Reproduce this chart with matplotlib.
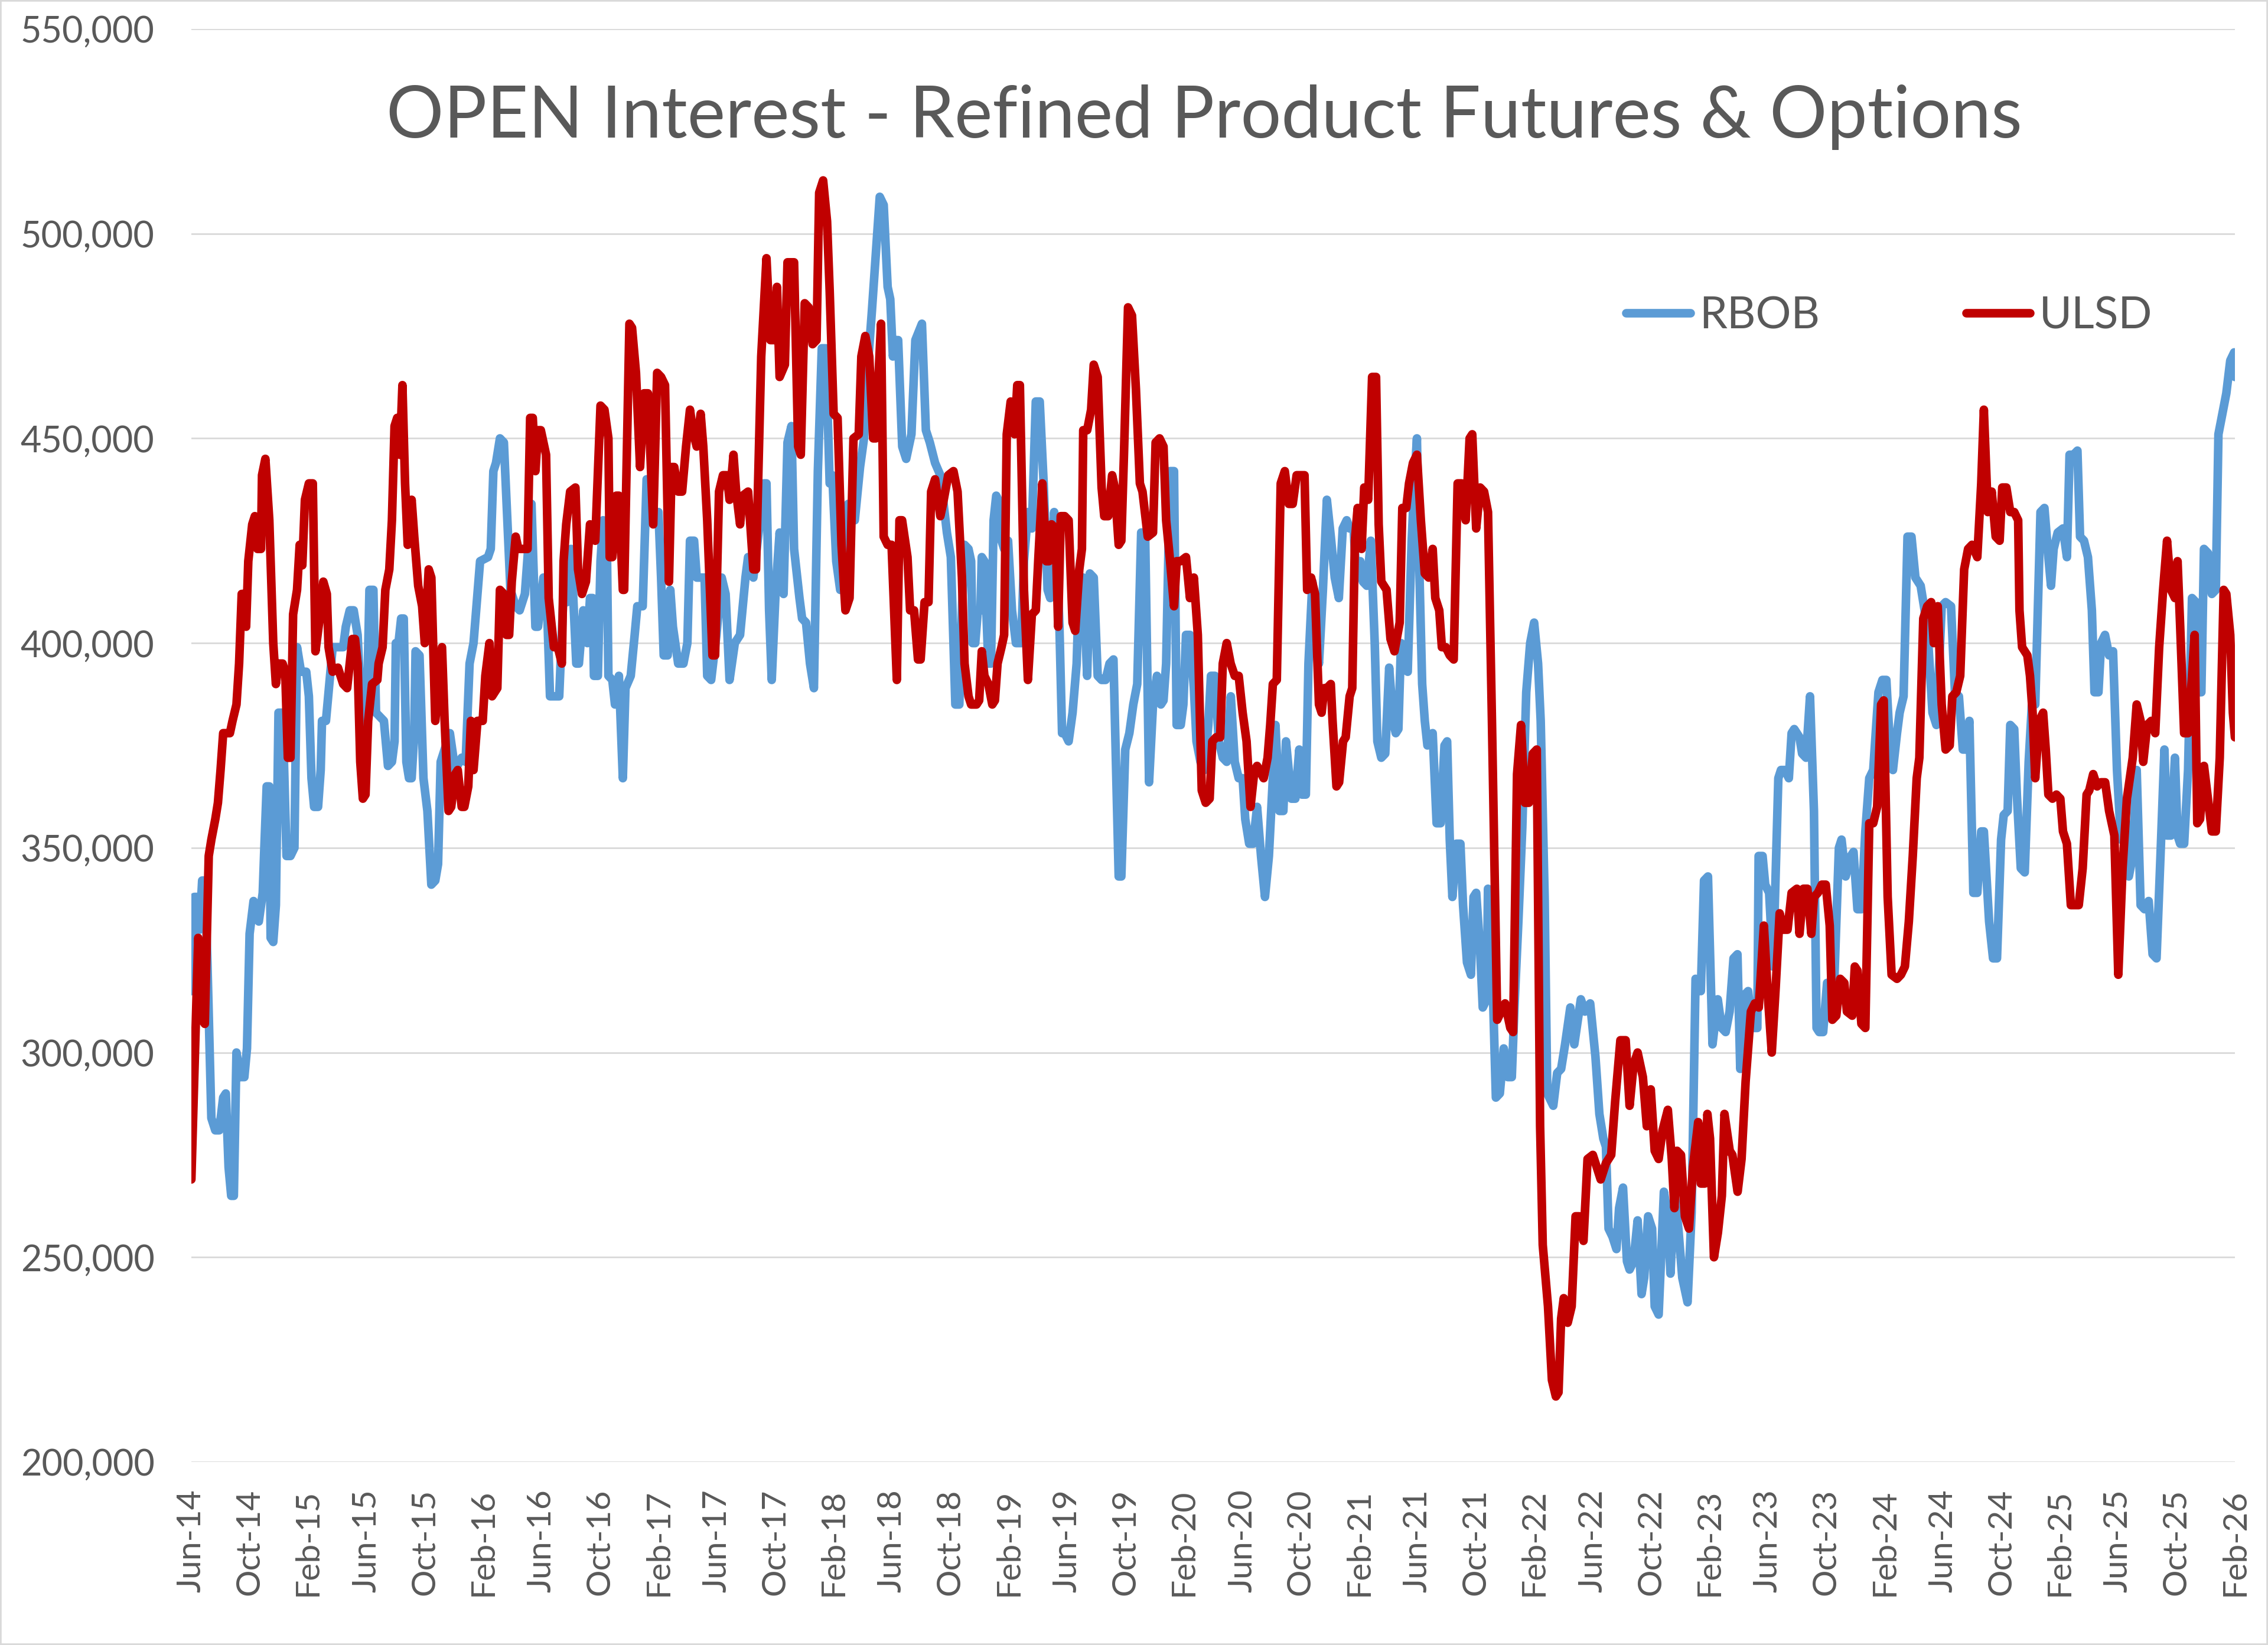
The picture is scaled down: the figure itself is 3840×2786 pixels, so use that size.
import matplotlib
matplotlib.use("Agg")
import matplotlib.pyplot as plt
from matplotlib.patches import Rectangle
import numpy as np

# open interest in thousands of contracts, x = months after Jun-14 (weekly data)
ulsd_points = [
    (0.00, 269), (0.47, 328), (0.74, 308), (0.92, 307), (1.19, 348), (1.37, 352), (1.64, 357), (1.82, 361),
    (2.00, 369), (2.18, 378), (2.64, 378), (2.82, 381), (3.09, 385), (3.27, 395), (3.45, 412), (3.63, 412),
    (3.75, 404), (3.90, 420), (4.17, 429), (4.35, 431), (4.53, 423), (4.77, 423), (4.84, 441), (5.07, 445),
    (5.34, 430), (5.61, 400), (5.79, 390), (5.97, 395), (6.25, 395), (6.43, 393), (6.61, 372), (6.79, 372),
    (6.97, 407), (7.24, 413), (7.42, 424), (7.60, 419), (7.78, 435), (8.05, 439), (8.32, 439), (8.50, 398),
    (8.86, 408), (9.04, 415), (9.28, 412), (9.40, 399), (9.68, 393), (10.04, 394), (10.40, 390), (10.67, 389),
    (11.03, 401), (11.21, 401), (11.39, 395), (11.57, 371), (11.75, 362), (11.93, 363), (12.11, 381), (12.38, 390),
    (12.74, 391), (12.83, 395), (13.10, 399), (13.29, 413), (13.56, 418), (13.74, 430), (13.92, 453), (14.10, 455),
    (14.28, 446), (14.46, 463), (14.64, 439), (14.82, 424), (15.09, 435), (15.27, 426), (15.54, 414), (15.81, 409),
    (15.99, 400), (16.26, 418), (16.44, 416), (16.71, 381), (17.17, 399), (17.35, 381), (17.62, 359), (17.80, 360),
    (18.07, 368), (18.25, 369), (18.52, 360), (18.70, 360), (18.97, 365), (19.15, 381), (19.33, 369), (19.60, 381),
    (19.96, 381), (20.14, 392), (20.42, 400), (20.60, 387), (20.96, 389), (21.14, 413), (21.41, 412), (21.59, 402),
    (21.77, 402), (21.95, 415), (22.22, 426), (22.40, 423), (23.03, 423), (23.21, 455), (23.39, 455), (23.57, 442),
    (23.75, 452), (23.94, 452), (24.30, 446), (24.48, 411), (24.84, 399), (25.11, 399), (25.38, 395), (25.50, 420),
    (25.68, 429), (25.95, 437), (26.31, 438), (26.49, 418), (26.76, 412), (27.03, 415), (27.31, 429), (27.67, 425),
    (28.03, 458), (28.30, 457), (28.57, 450), (28.66, 421), (28.84, 421), (29.11, 436), (29.29, 436), (29.56, 413),
    (29.65, 413), (30.01, 478), (30.19, 477), (30.46, 466), (30.74, 443), (31.01, 461), (31.28, 461), (31.64, 429),
    (31.91, 466), (32.18, 465), (32.45, 463), (32.72, 415), (32.90, 443), (33.08, 443), (33.35, 437), (33.62, 437),
    (33.89, 448), (34.16, 457), (34.35, 452), (34.62, 448), (34.89, 456), (35.07, 448), (35.34, 430), (35.70, 397),
    (35.88, 397), (36.15, 437), (36.42, 441), (36.69, 441), (36.87, 435), (37.14, 446), (37.32, 437), (37.59, 429),
    (37.77, 436), (38.14, 437), (38.50, 418), (38.68, 418), (39.04, 470), (39.40, 494), (39.67, 474), (39.94, 474),
    (40.12, 487), (40.30, 465), (40.66, 468), (40.84, 493), (41.29, 493), (41.57, 448), (41.75, 446), (42.02, 483),
    (42.29, 482), (42.56, 473), (42.83, 474), (43.01, 510), (43.28, 513), (43.55, 503), (43.73, 486), (44.00, 456),
    (44.27, 455), (44.54, 424), (44.81, 408), (45.09, 411), (45.36, 450), (45.72, 451), (45.90, 470), (46.17, 475),
    (46.44, 470), (46.71, 450), (46.89, 450), (47.07, 465), (47.25, 478), (47.43, 426), (47.70, 424), (47.97, 424),
    (48.33, 391), (48.51, 430), (48.69, 430), (49.06, 421), (49.24, 408), (49.51, 408), (49.78, 396), (49.96, 396),
    (50.23, 410), (50.50, 410), (50.68, 437), (50.95, 440), (51.31, 431), (51.49, 434), (51.85, 441), (52.21, 442),
    (52.49, 437), (52.79, 416), (52.97, 395), (53.24, 387), (53.42, 385), (53.79, 385), (53.97, 386), (54.15, 398),
    (54.33, 392), (54.60, 390), (54.87, 385), (55.05, 386), (55.23, 395), (55.50, 399), (55.68, 402), (55.86, 451),
    (56.13, 459), (56.40, 451), (56.58, 463), (56.76, 463), (57.04, 413), (57.31, 391), (57.58, 407), (57.85, 408),
    (58.03, 421), (58.30, 439), (58.57, 420), (58.75, 420), (58.93, 429), (59.20, 428), (59.38, 404), (59.56, 431),
    (59.83, 431), (60.10, 430), (60.37, 405), (60.55, 403), (60.83, 418), (61.01, 423), (61.10, 452), (61.37, 452),
    (61.64, 457), (61.82, 468), (62.09, 465), (62.36, 438), (62.54, 431), (62.81, 431), (63.08, 441), (63.26, 438),
    (63.53, 424), (63.71, 425), (63.89, 446), (64.17, 482), (64.44, 480), (64.71, 462), (64.98, 439), (65.16, 437),
    (65.52, 426), (65.88, 427), (66.06, 449), (66.33, 450), (66.60, 448), (66.78, 430), (67.05, 420), (67.32, 409),
    (67.50, 420), (67.78, 420), (68.14, 421), (68.41, 411), (68.68, 416), (68.95, 402), (69.22, 364), (69.49, 361),
    (69.76, 362), (69.94, 376), (70.21, 377), (70.48, 377), (70.66, 395), (70.93, 400), (71.20, 395), (71.48, 392),
    (71.75, 392), (72.02, 383), (72.29, 376), (72.56, 360), (72.83, 369), (73.01, 370), (73.46, 367), (73.73, 372),
    (73.91, 380), (74.09, 390), (74.36, 391), (74.63, 439), (74.91, 442), (75.18, 434), (75.45, 434), (75.72, 441),
    (76.26, 441), (76.44, 413), (76.71, 416), (76.98, 412), (77.25, 385), (77.43, 383), (77.61, 389), (77.79, 389),
    (78.06, 390), (78.18, 381), (78.45, 365), (78.63, 366), (78.90, 376), (79.08, 377), (79.35, 387), (79.53, 389),
    (79.71, 425), (79.90, 433), (80.17, 423), (80.35, 438), (80.62, 435), (80.89, 465), (81.16, 465), (81.34, 429),
    (81.52, 415), (81.88, 413), (82.15, 401), (82.42, 398), (82.78, 405), (82.96, 433), (83.23, 433), (83.42, 439),
    (83.69, 444), (83.96, 446), (84.23, 430), (84.50, 417), (84.77, 416), (85.04, 423), (85.22, 411), (85.49, 408),
    (85.67, 399), (85.94, 399), (86.21, 397), (86.48, 396), (86.75, 439), (87.03, 439), (87.30, 430), (87.57, 450),
    (87.75, 451), (88.02, 428), (88.29, 438), (88.56, 437), (88.83, 432), (89.10, 381), (89.46, 308), (89.73, 310),
    (90.00, 312), (90.36, 306), (90.55, 305), (90.73, 347), (90.82, 368), (91.09, 380), (91.36, 361), (91.63, 361),
    (91.90, 373), (92.17, 374), (92.40, 282), (92.58, 253), (92.94, 238), (93.21, 220), (93.48, 216), (93.66, 217),
    (93.84, 235), (94.02, 240), (94.29, 234), (94.56, 238), (94.83, 260), (95.10, 260), (95.37, 254), (95.65, 274),
    (96.01, 275), (96.28, 272), (96.55, 269), (96.91, 273), (97.27, 275), (97.54, 288), (97.90, 303), (98.26, 303),
    (98.53, 287), (98.80, 297), (99.08, 300), (99.44, 294), (99.71, 282), (99.98, 291), (100.25, 276), (100.52, 274),
    (100.79, 281), (101.15, 286), (101.42, 274), (101.60, 262), (101.78, 276), (102.05, 275), (102.32, 260), (102.60, 257),
    (102.87, 272), (103.23, 283), (103.41, 268), (103.68, 268), (103.86, 285), (104.04, 279), (104.31, 250), (104.58, 256),
    (104.85, 265), (105.03, 285), (105.39, 276), (105.57, 275), (105.93, 266), (106.20, 274), (106.48, 293), (106.84, 310),
    (107.11, 312), (107.38, 311), (107.73, 331), (108.00, 314), (108.27, 300), (108.54, 316), (108.81, 334), (109.08, 330),
    (109.35, 330), (109.63, 339), (109.99, 340), (110.17, 329), (110.44, 340), (110.71, 340), (110.98, 329), (111.16, 338),
    (111.43, 339), (111.70, 341), (111.97, 341), (112.24, 331), (112.42, 308), (112.69, 309), (112.96, 318), (113.24, 317),
    (113.42, 310), (113.78, 309), (113.96, 321), (114.14, 320), (114.41, 307), (114.68, 306), (114.95, 356), (115.22, 356),
    (115.49, 360), (115.76, 385), (115.94, 386), (116.21, 338), (116.48, 319), (116.85, 318), (117.12, 319), (117.39, 321),
    (117.66, 332), (117.93, 348), (118.20, 367), (118.38, 372), (118.65, 406), (118.92, 409), (119.19, 410), (119.37, 400),
    (119.64, 409), (119.91, 385), (120.18, 374), (120.46, 375), (120.64, 387), (120.91, 388), (121.18, 392), (121.45, 418),
    (121.72, 423), (121.99, 424), (122.35, 421), (122.62, 439), (122.80, 457), (123.07, 432), (123.34, 437), (123.61, 426),
    (123.88, 425), (124.06, 438), (124.34, 438), (124.61, 432), (124.88, 432), (125.15, 430), (125.24, 408), (125.42, 399),
    (125.78, 397), (125.96, 392), (126.14, 383), (126.32, 367), (126.59, 381), (126.86, 383), (127.04, 374), (127.22, 363),
    (127.50, 362), (127.77, 363), (128.04, 362), (128.22, 354), (128.49, 351), (128.76, 336), (129.03, 336), (129.30, 336),
    (129.57, 345), (129.84, 363), (130.02, 364), (130.29, 368), (130.56, 365), (130.83, 366), (131.11, 366), (131.38, 359),
    (131.74, 353), (132.01, 319), (132.30, 345), (132.60, 362), (133.00, 372), (133.27, 385), (133.54, 381), (133.72, 371),
    (133.99, 380), (134.27, 381), (134.54, 378), (134.81, 399), (135.08, 413), (135.35, 425), (135.62, 413), (135.89, 411),
    (136.07, 420), (136.25, 404), (136.52, 378), (136.79, 378), (137.06, 392), (137.24, 402), (137.42, 356), (137.61, 357),
    (137.88, 370), (138.15, 362), (138.42, 354), (138.69, 354), (138.96, 372), (139.23, 413), (139.41, 412), (139.68, 402),
    (139.86, 383), (140.00, 377),
]

rbob_points = [
    (0.00, 315), (0.20, 338), (0.47, 338), (0.56, 330), (0.74, 342), (0.92, 342), (1.10, 322), (1.37, 284),
    (1.64, 281), (1.91, 281), (2.18, 289), (2.36, 290), (2.55, 272), (2.73, 265), (2.91, 265), (3.09, 300),
    (3.36, 294), (3.63, 294), (3.81, 301), (3.99, 329), (4.26, 337), (4.44, 333), (4.62, 332), (4.89, 339),
    (4.98, 348), (5.16, 365), (5.34, 365), (5.43, 328), (5.61, 327), (5.79, 336), (5.97, 383), (6.25, 383),
    (6.52, 348), (6.79, 348), (7.06, 350), (7.24, 399), (7.51, 393), (7.87, 393), (8.05, 387), (8.23, 367),
    (8.41, 360), (8.68, 360), (8.86, 369), (8.95, 381), (9.22, 381), (9.40, 388), (9.68, 399), (10.40, 399),
    (10.58, 404), (10.85, 408), (11.12, 408), (11.39, 402), (11.66, 381), (11.93, 367), (12.20, 413), (12.47, 413),
    (12.65, 383), (13.19, 381), (13.47, 370), (13.74, 371), (13.92, 376), (14.01, 400), (14.19, 400), (14.37, 406),
    (14.55, 406), (14.73, 371), (14.91, 367), (15.09, 367), (15.27, 378), (15.36, 398), (15.63, 397), (15.90, 367),
    (16.17, 359), (16.44, 341), (16.71, 342), (16.90, 346), (17.08, 371), (17.71, 378), (18.07, 369), (18.52, 372),
    (18.79, 371), (19.06, 395), (19.33, 400), (19.78, 420), (20.32, 421), (20.51, 423), (20.69, 442), (20.87, 444),
    (21.14, 450), (21.41, 449), (21.86, 413), (22.22, 409), (22.49, 408), (22.85, 412), (23.30, 434), (23.57, 404),
    (23.75, 404), (24.12, 416), (24.30, 416), (24.57, 387), (25.20, 387), (25.47, 410), (25.74, 410), (26.01, 423),
    (26.37, 395), (26.55, 395), (26.85, 408), (27.13, 400), (27.31, 411), (27.49, 411), (27.58, 392), (27.85, 392),
    (28.03, 420), (28.21, 430), (28.48, 420), (28.57, 392), (28.84, 391), (29.02, 385), (29.29, 392), (29.56, 367),
    (29.74, 389), (30.10, 392), (30.37, 402), (30.55, 409), (30.92, 409), (31.19, 440), (31.46, 440), (31.73, 430),
    (32.00, 432), (32.18, 416), (32.36, 397), (32.63, 397), (32.81, 413), (32.99, 404), (33.35, 395), (33.71, 395),
    (33.98, 400), (34.16, 425), (34.44, 425), (34.62, 416), (35.16, 416), (35.34, 392), (35.61, 391), (35.97, 402),
    (36.33, 416), (36.60, 412), (36.87, 391), (37.23, 400), (37.59, 402), (37.96, 416), (38.14, 421), (38.50, 416),
    (38.86, 427), (39.22, 439), (39.40, 439), (39.58, 408), (39.76, 391), (40.03, 413), (40.30, 427), (40.57, 412),
    (40.84, 449), (41.11, 453), (41.29, 423), (41.66, 411), (41.84, 406), (42.11, 405), (42.38, 395), (42.65, 389),
    (42.92, 442), (43.19, 472), (43.46, 472), (43.73, 439), (43.91, 441), (44.18, 420), (44.45, 413), (44.72, 418),
    (45.00, 434), (45.45, 430), (45.81, 443), (46.08, 450), (46.35, 468), (46.62, 481), (46.89, 495), (47.16, 509),
    (47.43, 507), (47.70, 487), (47.88, 484), (48.06, 470), (48.24, 474), (48.42, 474), (48.70, 448), (48.97, 445),
    (49.33, 451), (49.60, 474), (50.05, 478), (50.32, 452), (50.59, 449), (50.95, 444), (51.31, 441), (51.76, 427),
    (52.03, 421), (52.34, 385), (52.61, 385), (52.79, 408), (52.97, 424), (53.24, 423), (53.42, 420), (53.52, 400),
    (53.70, 400), (53.88, 408), (54.06, 408), (54.15, 421), (54.33, 420), (54.60, 395), (54.78, 395), (54.96, 430),
    (55.14, 436), (55.41, 434), (55.50, 425), (55.68, 423), (55.95, 425), (56.22, 408), (56.49, 400), (56.85, 400),
    (57.04, 420), (57.31, 432), (57.58, 428), (57.85, 459), (58.12, 459), (58.39, 439), (58.66, 413), (58.84, 411),
    (59.11, 432), (59.29, 421), (59.47, 404), (59.65, 378), (59.83, 378), (60.10, 376), (60.37, 383), (60.65, 395),
    (60.83, 416), (61.10, 416), (61.37, 392), (61.55, 417), (61.82, 416), (62.09, 392), (62.36, 391), (62.63, 391),
    (62.90, 395), (63.17, 396), (63.53, 343), (63.71, 343), (63.98, 374), (64.26, 378), (64.53, 385), (64.80, 390),
    (65.07, 427), (65.34, 427), (65.61, 366), (65.88, 385), (66.15, 392), (66.42, 385), (66.60, 386), (66.78, 395),
    (67.05, 442), (67.32, 442), (67.50, 380), (67.78, 380), (67.96, 385), (68.14, 402), (68.41, 402), (68.68, 389),
    (68.86, 376), (69.13, 371), (69.40, 369), (69.67, 380), (69.85, 392), (70.12, 392), (70.39, 376), (70.66, 372),
    (70.93, 371), (71.21, 387), (71.48, 371), (71.75, 367), (72.02, 367), (72.20, 357), (72.47, 351), (72.74, 351),
    (73.01, 360), (73.28, 348), (73.55, 338), (73.82, 348), (74.09, 367), (74.27, 380), (74.54, 359), (74.81, 359),
    (74.99, 376), (75.36, 362), (75.63, 362), (75.90, 374), (76.08, 363), (76.35, 363), (76.53, 395), (76.80, 415),
    (77.07, 399), (77.25, 395), (77.52, 413), (77.79, 435), (78.06, 426), (78.33, 416), (78.61, 411), (78.88, 428),
    (79.15, 430), (79.35, 428), (79.62, 428), (79.81, 416), (80.08, 420), (80.26, 415), (80.53, 414), (80.80, 425),
    (81.07, 400), (81.25, 376), (81.52, 372), (81.79, 373), (82.06, 394), (82.33, 381), (82.51, 378), (82.69, 379),
    (82.87, 400), (83.05, 394), (83.33, 393), (83.60, 425), (83.78, 439), (83.96, 450), (84.14, 416), (84.32, 390),
    (84.50, 381), (84.68, 375), (85.04, 378), (85.31, 356), (85.58, 356), (85.85, 375), (86.03, 376), (86.21, 352),
    (86.39, 338), (86.66, 351), (86.94, 351), (87.12, 336), (87.39, 322), (87.66, 319), (87.84, 338), (88.02, 339),
    (88.29, 325), (88.47, 311), (88.74, 313), (88.83, 340), (89.10, 323), (89.37, 289), (89.64, 290), (89.91, 301),
    (90.18, 294), (90.46, 294), (90.64, 311), (90.91, 332), (91.18, 355), (91.45, 388), (91.72, 400), (91.99, 405),
    (92.26, 395), (92.44, 381), (92.71, 338), (92.89, 290), (93.30, 287), (93.57, 295), (93.84, 296), (94.11, 302),
    (94.47, 311), (94.74, 302), (95.19, 313), (95.47, 310), (95.83, 312), (96.19, 299), (96.46, 285), (96.73, 279),
    (96.91, 277), (97.09, 257), (97.36, 255), (97.63, 252), (97.81, 262), (98.08, 267), (98.35, 249), (98.53, 247),
    (98.80, 249), (99.08, 259), (99.35, 241), (99.53, 245), (99.80, 260), (100.07, 257), (100.25, 238), (100.52, 236),
    (100.88, 266), (101.15, 260), (101.33, 246), (101.60, 266), (101.87, 257), (102.14, 245), (102.50, 239), (102.78, 261),
    (103.05, 318), (103.41, 315), (103.63, 342), (103.90, 343), (104.21, 302), (104.57, 313), (104.84, 306), (105.11, 305),
    (105.38, 310), (105.65, 323), (105.92, 324), (106.11, 296), (106.38, 314), (106.65, 315), (106.92, 306), (107.28, 306),
    (107.37, 348), (107.64, 348), (107.82, 341), (108.09, 339), (108.36, 321), (108.72, 367), (108.90, 369), (109.17, 369),
    (109.44, 367), (109.63, 378), (109.81, 379), (110.17, 377), (110.35, 373), (110.62, 372), (110.89, 387), (111.16, 359),
    (111.34, 306), (111.52, 305), (111.79, 305), (112.06, 317), (112.51, 313), (112.87, 350), (113.05, 352), (113.33, 343),
    (113.69, 348), (113.87, 349), (114.14, 335), (114.41, 335), (114.68, 354), (114.95, 367), (115.22, 369), (115.58, 388),
    (115.85, 391), (116.12, 391), (116.39, 373), (116.57, 369), (116.85, 378), (117.03, 383), (117.30, 387), (117.57, 426),
    (117.84, 426), (118.11, 416), (118.47, 414), (118.74, 408), (119.01, 399), (119.28, 383), (119.55, 380), (119.73, 394),
    (119.91, 409), (120.18, 410), (120.55, 409), (120.82, 388), (121.09, 387), (121.36, 374), (121.54, 374), (121.81, 381),
    (122.08, 339), (122.35, 339), (122.62, 354), (122.80, 354), (123.16, 332), (123.43, 323), (123.70, 323), (123.98, 352),
    (124.16, 358), (124.43, 359), (124.61, 380), (124.88, 379), (125.06, 363), (125.33, 345), (125.60, 344), (125.87, 371),
    (126.14, 388), (126.32, 385), (126.68, 432), (126.95, 433), (127.22, 421), (127.40, 414), (127.58, 423), (127.86, 427),
    (128.22, 428), (128.49, 421), (128.67, 446), (128.94, 446), (129.21, 447), (129.39, 426), (129.66, 425), (129.93, 421),
    (130.20, 408), (130.38, 388), (130.65, 388), (130.83, 400), (131.10, 402), (131.38, 397), (131.65, 398), (131.92, 369),
    (132.19, 352), (132.46, 360), (132.73, 343), (133.00, 348), (133.27, 369), (133.54, 336), (133.81, 335), (134.09, 337),
    (134.36, 324), (134.63, 323), (134.90, 348), (135.17, 374), (135.35, 353), (135.62, 353), (135.89, 372), (136.07, 353),
    (136.25, 351), (136.52, 351), (136.79, 369), (137.06, 411), (137.33, 410), (137.51, 388), (137.70, 388), (137.88, 423),
    (138.15, 422), (138.42, 412), (138.69, 413), (138.87, 451), (139.14, 456), (139.41, 461), (139.68, 469), (139.95, 471),
    (140.00, 465),
]

x_labels = ["Jun-14", "Oct-14", "Feb-15", "Jun-15", "Oct-15", "Feb-16", "Jun-16", "Oct-16", "Feb-17",
            "Jun-17", "Oct-17", "Feb-18", "Jun-18", "Oct-18", "Feb-19", "Jun-19", "Oct-19", "Feb-20",
            "Jun-20", "Oct-20", "Feb-21", "Jun-21", "Oct-21", "Feb-22", "Jun-22", "Oct-22", "Feb-23",
            "Jun-23", "Oct-23", "Feb-24", "Jun-24", "Oct-24", "Feb-25", "Jun-25", "Oct-25", "Feb-26"]
y_ticks = [200000, 250000, 300000, 350000, 400000, 450000, 500000, 550000]

title = "OPEN Interest - Refined Product Futures & Options"
grey = "#595959"
plt.rcParams["font.family"] = ["Lato", "DejaVu Sans"]

ulsd = np.array(ulsd_points)
rbob = np.array(rbob_points)

fig = plt.figure(figsize=(38.4, 27.86), dpi=100)
ax = fig.add_axes([324 / 3840, 310 / 2786, 3460 / 3840, 2427 / 2786])

ax.plot(rbob[:, 0], rbob[:, 1] * 1000, color="#5B9BD5", lw=10.5, label="RBOB",
        solid_joinstyle="round", solid_capstyle="round")
ax.plot(ulsd[:, 0], ulsd[:, 1] * 1000, color="#C00000", lw=10.5, label="ULSD",
        solid_joinstyle="round", solid_capstyle="round")

ax.set_xlim(0, 140)
ax.set_ylim(y_ticks[0], y_ticks[-1])
ax.set_yticks(y_ticks)
ax.set_yticklabels([f"{v:,}" for v in y_ticks])
ax.set_xticks(np.arange(len(x_labels)) * 4)
ax.set_xticklabels(x_labels, rotation=90)
ax.tick_params(axis="y", length=0, pad=45, labelsize=44, labelcolor=grey)
ax.tick_params(axis="x", length=0, pad=33, labelsize=41, labelcolor=grey)
ax.yaxis.grid(True, color="#d9d9d9", lw=2)
ax.set_axisbelow(True)
for s in ax.spines.values():
    s.set_visible(False)

fig.text(0.531, 0.9165, title, ha="center", va="baseline", fontsize=87.5, color=grey)

ax.legend(loc="center", bbox_to_anchor=(0.833, 0.808), bbox_transform=fig.transFigure, ncol=2,
          frameon=False, fontsize=54, handlelength=1.45, handletextpad=0.2, columnspacing=3.3,
          labelcolor=grey)

fig.patches.append(Rectangle((0, 0), 1, 1, transform=fig.transFigure, fill=False,
                             edgecolor="#d9d9d9", lw=4))

fig.savefig("out.png", dpi=100)
